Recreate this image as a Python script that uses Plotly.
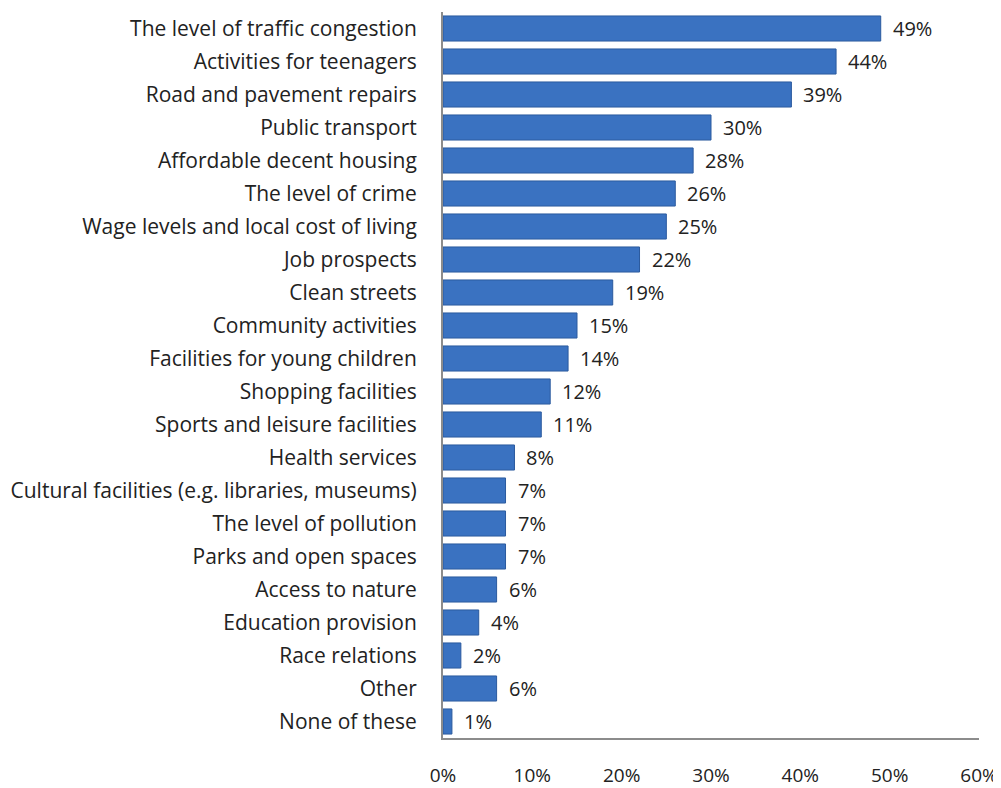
import plotly.graph_objects as go

categories = [
    "The level of traffic congestion",
    "Activities for teenagers",
    "Road and pavement repairs",
    "Public transport",
    "Affordable decent housing",
    "The level of crime",
    "Wage levels and local cost of living",
    "Job prospects",
    "Clean streets",
    "Community activities",
    "Facilities for young children",
    "Shopping facilities",
    "Sports and leisure facilities",
    "Health services",
    "Cultural facilities (e.g. libraries, museums)",
    "The level of pollution",
    "Parks and open spaces",
    "Access to nature",
    "Education provision",
    "Race relations",
    "Other",
    "None of these",
]
values = [49, 44, 39, 30, 28, 26, 25, 22, 19, 15, 14, 12, 11, 8, 7, 7, 7, 6, 4, 2, 6, 1]
tick_vals = [0, 10, 20, 30, 40, 50, 60]
tick_text = ["0%", "10%", "20%", "30%", "40%", "50%", "60%"]

FONT = "Open Sans, Noto Sans, sans-serif"
FS = 20

fig = go.Figure()
fig.add_trace(go.Bar(
    x=values,
    y=categories,
    orientation="h",
    width=0.76,
    marker=dict(color="#3a72c1", line=dict(color="#2b5a9e", width=1)),
    hoverinfo="x+y",
))

annotations = [
    dict(x=v, y=c, text=f"{v}%", xref="x", yref="y", xanchor="left",
         showarrow=False, xshift=10, font=dict(family=FONT, size=FS, color="#222"))
    for c, v in zip(categories, values)
]

fig.update_layout(
    width=993, height=780,
    margin=dict(l=435, r=22, t=4, b=50, autoexpand=False),
    paper_bgcolor="white", plot_bgcolor="white",
    showlegend=False,
    annotations=annotations,
    font=dict(family=FONT, size=FS, color="#222"),
    xaxis=dict(
        range=[0, 60], tickvals=tick_vals, ticktext=tick_text,
        showgrid=False, zeroline=False,
        showline=True, linecolor="#8c8c8c", linewidth=2,
        ticks="", ticklabelstandoff=19,
        tickfont=dict(family=FONT, size=FS - 1, color="#222"),
        fixedrange=True, automargin=False,
    ),
    yaxis=dict(
        autorange="reversed", categoryorder="array", categoryarray=categories,
        showgrid=False, zeroline=False,
        showline=True, linecolor="#8c8c8c", linewidth=2,
        ticks="", ticklabelstandoff=20,
        tickfont=dict(family=FONT, size=21, color="#222"),
        fixedrange=True, automargin=False,
    ),
    bargap=0.24,
)

fig.write_html("out.html")
